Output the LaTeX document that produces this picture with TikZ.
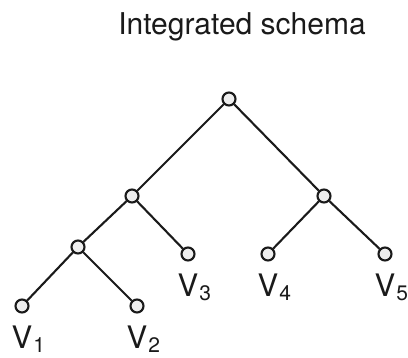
\documentclass[tikz,border=0pt]{standalone}
\usepackage{fontspec}
\setmainfont{TeX Gyre Heros}
\usetikzlibrary{positioning}
\definecolor{vfill}{HTML}{EEEEEE}
\definecolor{ink}{HTML}{1A1A1A}
\newcommand{\vlab}[1]{V\rlap{\kern1pt\raisebox{-4pt}{\fontsize{21}{21}\selectfont #1}}}
\begin{document}
\begin{tikzpicture}[x=1pt,y=-1pt,
  vert/.style={circle,draw=ink,fill=vfill,line width=2.1pt,inner sep=0pt,minimum size=13pt},
  lbl/.style={inner sep=0pt,text=ink,font=\fontsize{31}{31}\selectfont},
  edge/.style={draw=ink,line width=2.1pt}]
\useasboundingbox (0,0) rectangle (408,357);
\node[anchor=base,text=ink,font=\fontsize{30}{30}\selectfont] (title) at (242,34) {Integrated schema};
% tree
\node[vert] (root) at (229,99) {};
\node[vert] (l) at (132,196) {}; \node[vert] (r) at (324,196) {};
\node[vert] (ll) at (78,247) {}; \node[vert] (lr) at (188,254) {};
\node[vert] (rl) at (268,254) {}; \node[vert] (rr) at (385,254) {};
\node[vert] (lll) at (22,306) {}; \node[vert] (llr) at (137,306) {};
\draw[edge] (root)--(l); \draw[edge] (root)--(r);
\draw[edge] (l)--(ll); \draw[edge] (l)--(lr);
\draw[edge] (r)--(rl); \draw[edge] (r)--(rr);
\draw[edge] (ll)--(lll); \draw[edge] (ll)--(llr);
% leaf labels
\node[lbl,below=12pt of lll] (v1) {\vlab{1}}; \node[lbl,below=12pt of llr] (v2) {\vlab{2}};
\node[lbl,below=12pt of lr] (v3) {\vlab{3}}; \node[lbl,below=12pt of rl] (v4) {\vlab{4}};
\node[lbl,below=12pt of rr] (v5) {\vlab{5}};
\end{tikzpicture}
\end{document}
